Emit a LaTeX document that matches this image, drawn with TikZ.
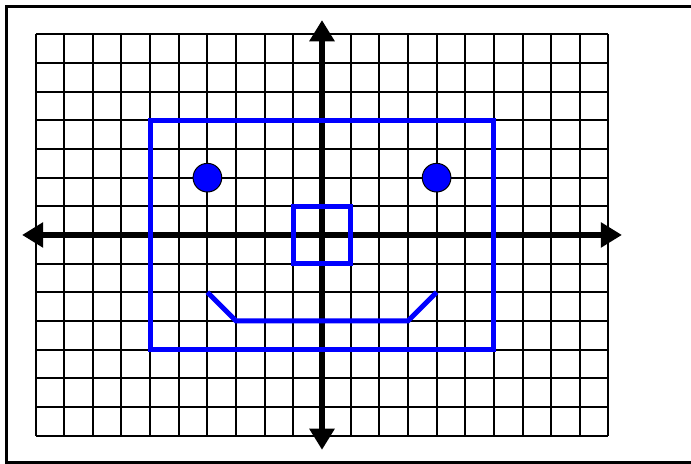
\documentclass[tikz,border=0pt]{standalone}
\usepackage{tikz}
\usetikzlibrary{arrows.meta}
\usepackage{xcolor}

\tikzset{
    face/.style={draw=blue, line width=5pt, line join=miter},
    axis/.style={line width=6.5pt, -{Triangle[length=21pt, width=24pt]}},
}

\begin{document}
\begin{tikzpicture}
            \useasboundingbox (-11.24,-7.993) rectangle (12.88,8.202);
            \draw[line width=3pt] (-11.01,7.976) rectangle (13.5,-7.958);
            \draw[line width=2pt, step=1] (-10,-7) grid (10,7);
            % axes
            \coordinate (xl) at (-10.47,0);
            \coordinate (xr) at (10.47,0);
            \coordinate (yt) at (0,7.5);
            \coordinate (yb) at (0,-7.5);
            \coordinate (o) at (0,0);
            \draw[axis] (o) -- (xl);
            \draw[axis] (o) -- (xr);
            \draw[axis] (o) -- (yt);
            \draw[axis] (o) -- (yb);
            % face
            \draw[face] (-6,-4) rectangle (6,4);
            \draw[face] (-1,-1) rectangle (1,1);
            \draw[face] (-4,-2) -- (-3,-3) -- (3,-3) -- (4,-2);
            \draw[fill=blue, line width=1pt] (-4,2) circle (0.5);
            \draw[fill=blue, line width=1pt] (4,2) circle (0.5);
        \end{tikzpicture}
\end{document}
